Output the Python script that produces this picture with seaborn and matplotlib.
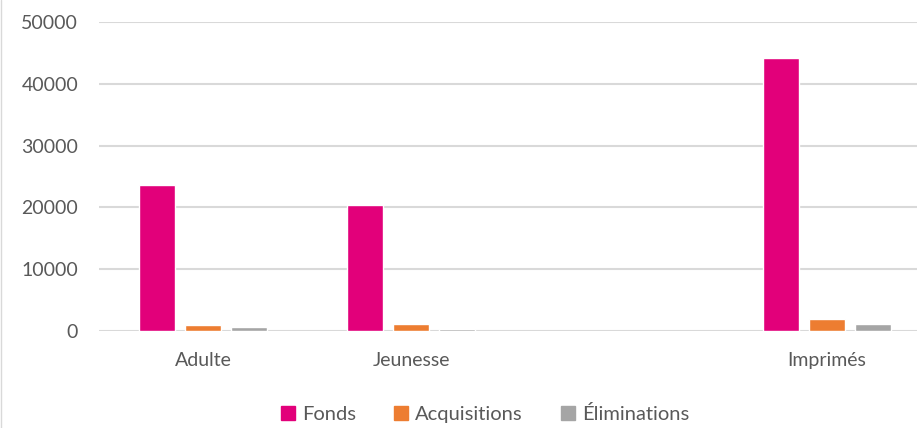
import pandas as pd
import seaborn as sns
import matplotlib.pyplot as plt
from matplotlib.lines import Line2D

# categories (third slot is an empty category in the source chart)
categories = ["Adulte", "Jeunesse", "", "Imprimés"]
series = ["Fonds", "Acquisitions", "Éliminations"]

fonds = [23700, 20400, 44100]
acquisitions = [900, 1100, 2000]
eliminations = [700, 400, 1100]
data_cats = ["Adulte", "Jeunesse", "Imprimés"]

colors = ["#E2007A", "#ED7D31", "#A5A5A5"]
yticks = [0, 10000, 20000, 30000, 40000, 50000]

rows = []
for name, vals in zip(series, [fonds, acquisitions, eliminations]):
    for cat, v in zip(data_cats, vals):
        rows.append({"cat": cat, "serie": name, "val": v})
df = pd.DataFrame(rows)

sns.set_style("white")
plt.rcParams["font.family"] = ["Lato", "DejaVu Sans"]
text_col = "#595959"

fig = plt.figure(figsize=(9.17, 4.28), dpi=100)
W, H = 917, 428
ax = fig.add_axes([99 / W, 97 / H, 832 / W, 309 / H])

sns.barplot(data=df, x="cat", y="val", hue="serie", order=categories,
            hue_order=series, palette=colors, width=0.663, gap=0.2,
            ax=ax, legend=False, saturation=1)

ax.set_xlim(-0.5, 3.5)
ax.set_ylim(0, 50000)
ax.set_yticks(yticks)
ax.set_yticklabels([str(t) for t in yticks])
ax.yaxis.grid(True, color="#D9D9D9", linewidth=1.5)
ax.set_axisbelow(True)
for s in ax.spines.values():
    s.set_visible(False)
ax.tick_params(axis="both", length=0, labelsize=14, colors=text_col)
ax.tick_params(axis="y", pad=15)
ax.tick_params(axis="x", pad=15)
ax.set_xlabel("")
ax.set_ylabel("")

handles = [plt.Rectangle((0, 0), 1, 1, color=c) for c in colors]
ax.legend(handles, series, loc="center", bbox_to_anchor=(485 / W, 14 / H),
          bbox_transform=fig.transFigure, ncol=3, frameon=False,
          handlelength=0.7, handleheight=0.7, handletextpad=0.35,
          columnspacing=1.9, prop={"size": 14.5}, labelcolor=text_col)

# left border of the chart area
fig.add_artist(Line2D([0.5 / W, 0.5 / W], [0, 1], transform=fig.transFigure,
                      color="#D9D9D9", linewidth=1))

fig.savefig("out.png", dpi=100)
